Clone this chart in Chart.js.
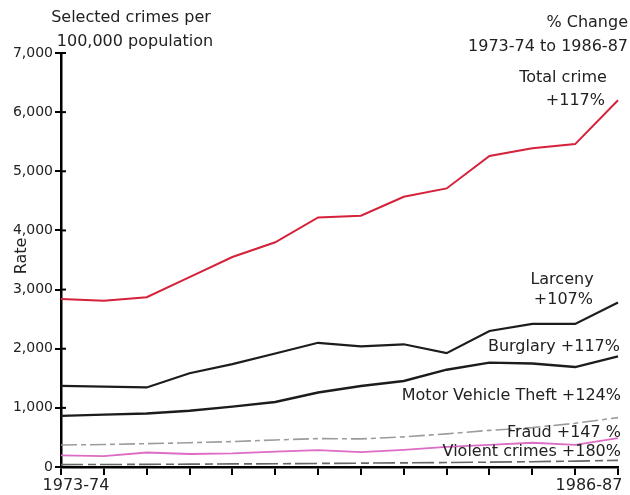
<!DOCTYPE html>
<html>
<head>
<meta charset="utf-8">
<script src="https://cdn.jsdelivr.net/npm/chart.js@4"></script>
<style>
  html, body { margin: 0; padding: 0; background: #fff; }
  #wrap { width: 630px; height: 495px; }
</style>
</head>
<body>
<div id="wrap"><canvas id="chart" width="630" height="495"></canvas></div>
<script>
const years = ["1973-74", "1974-75", "1975-76", "1976-77", "1977-78", "1978-79", "1979-80",
               "1980-81", "1981-82", "1982-83", "1983-84", "1984-85", "1985-86", "1986-87"];

const totalCrime   = [2840, 2810, 2870, 3210, 3550, 3800, 4220, 4250, 4570, 4710, 5260, 5390, 5460, 6200];
const larceny      = [1370, 1360, 1345, 1585, 1740, 1920, 2100, 2040, 2075, 1925, 2300, 2420, 2420, 2780];
const burglary     = [865, 885, 905, 950, 1020, 1100, 1260, 1370, 1455, 1645, 1765, 1750, 1690, 1870];
const motorVehicle = [372, 380, 395, 410, 430, 457, 480, 475, 510, 560, 620, 665, 740, 835];
const fraud        = [195, 185, 245, 220, 230, 260, 285, 250, 290, 340, 375, 410, 375, 490];
const violent      = [40, 42, 45, 48, 52, 55, 60, 65, 70, 75, 82, 90, 100, 112];

const yTicks = [0, 1000, 2000, 3000, 4000, 5000, 6000, 7000];

const FONT = "'DejaVu Sans', sans-serif";
const INK = "#222";

// all the text around the plot, drawn on the canvas
const annotations = {
    id: "annotations",
    afterDraw(chart) {
        const c = chart.ctx;
        const x = chart.scales.x;
        const y = chart.scales.y;
        c.save();

        // inner half of the y ticks (they cross the axis)
        c.strokeStyle = "#000";
        c.lineWidth = 2;
        yTicks.forEach(v => {
            const py = y.getPixelForValue(v);
            c.beginPath();
            c.moveTo(x.left, py);
            c.lineTo(x.left + 5, py);
            c.stroke();
        });

        c.fillStyle = INK;
        c.font = "16px " + FONT;
        c.textBaseline = "middle";

        c.textAlign = "center";
        c.fillText("Selected crimes per", 131, 18);
        c.fillText("100,000 population", 135, 42);

        c.textAlign = "right";
        c.fillText("% Change", 628, 23);
        c.fillText("1973-74 to 1986-87", 628, 47);

        c.textAlign = "center";
        c.fillText("Total crime", 563, 78);
        c.textAlign = "right";
        c.fillText("+117%", 605, 101);

        c.textAlign = "center";
        c.fillText("Larceny", 562, 280);
        c.textAlign = "right";
        c.fillText("+107%", 593, 300);

        c.fillText("Burglary +117%", 620, 347);
        c.fillText("Motor Vehicle Theft +124%", 621, 396);
        c.fillText("Fraud +147 %", 621, 433);
        c.fillText("Violent crimes +180%", 621, 452);

        // first and last year under the axis
        c.textAlign = "center";
        c.fillText(years[0], x.getPixelForValue(0) + 15, 486);
        c.fillText(years[years.length - 1], x.getPixelForValue(years.length - 1) - 29, 486);

        // axis title
        c.translate(22, 256);
        c.rotate(-Math.PI / 2);
        c.textAlign = "center";
        c.fillText("Rate", 0, 0);

        c.restore();
    }
};

function line(data, color, width, dash) {
    return {
        data: data,
        borderColor: color,
        borderWidth: width,
        borderDash: dash || [],
        pointRadius: 0,
        tension: 0,
        fill: false
    };
}

new Chart(document.getElementById("chart"), {
    type: "line",
    data: {
        labels: years,
        datasets: [
            line(totalCrime, "#d5213a", 2),
            line(larceny, "#1c1c1c", 2.2),
            line(burglary, "#1c1c1c", 2.4),
            line(motorVehicle, "#9c9c9c", 1.6, [16, 4, 5, 4]),
            line(fraud, "#dd6cc4", 1.8),
            line(violent, "#666", 1.6, [22, 5, 8, 4])
        ]
    },
    options: {
        responsive: false,
        animation: false,
        layout: { padding: { top: 53, right: 12, left: 0, bottom: 0 } },
        plugins: {
            legend: { display: false },
            tooltip: { enabled: false }
        },
        scales: {
            x: {
                type: "category",
                offset: false,
                afterFit: s => { s.height = 28; },
                border: { display: true, color: "#000", width: 2.5 },
                grid: { drawOnChartArea: false, tickLength: 8, color: "#000", lineWidth: 2 },
                ticks: { callback: () => "", autoSkip: false, maxRotation: 0 }
            },
            y: {
                min: 0,
                max: 7000,
                afterFit: s => { s.width = 61; },
                afterBuildTicks: s => { s.ticks = yTicks.map(v => ({ value: v })); },
                border: { display: true, color: "#000", width: 2.5 },
                grid: { drawOnChartArea: false, tickLength: 6, color: "#000", lineWidth: 2 },
                ticks: {
                    padding: 2,
                    color: INK,
                    font: { family: "DejaVu Sans", size: 14 },
                    callback: v => v.toLocaleString("en-US")
                }
            }
        }
    },
    plugins: [annotations]
});
</script>
</body>
</html>
